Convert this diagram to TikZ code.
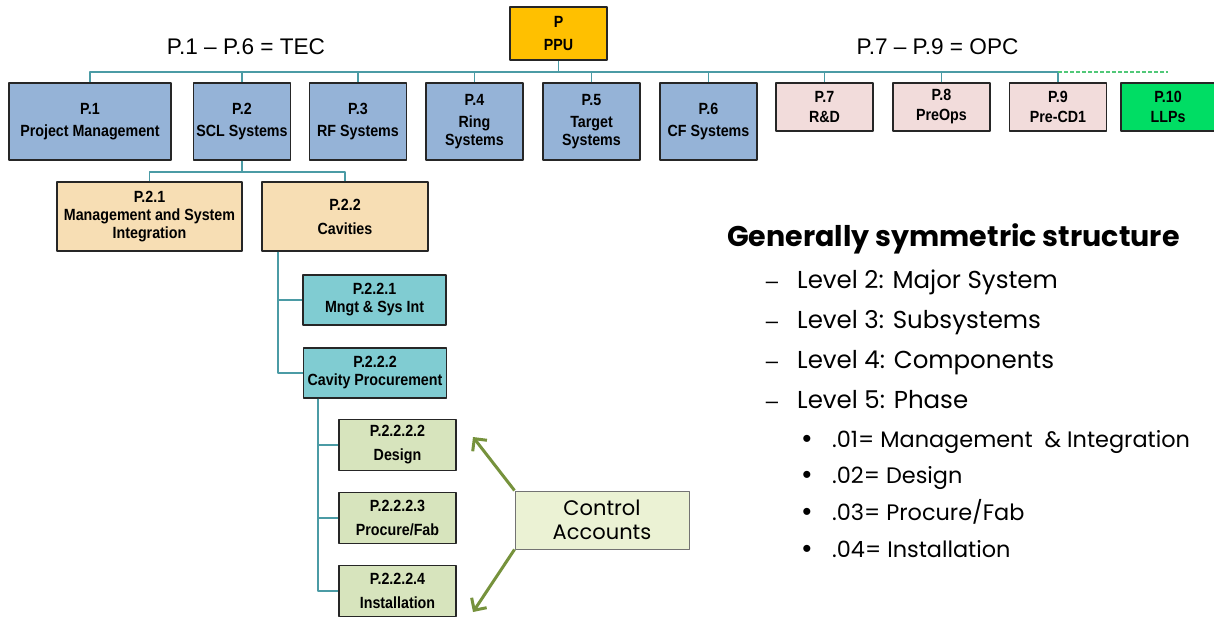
\documentclass[tikz,border=0pt]{standalone}
\usepackage{fontspec}
\setmainfont{Liberation Sans}
\newfontfamily\gothic{Poppins}
\newfontfamily\boxfont[FakeStretch=0.88]{Liberation Sans}
\usetikzlibrary{arrows.meta}

\definecolor{tecblue}{RGB}{149,179,215}
\definecolor{opcpink}{RGB}{242,220,219}
\definecolor{llpgreen}{RGB}{0,221,100}
\definecolor{ppuorange}{RGB}{255,192,0}
\definecolor{subtan}{RGB}{247,222,180}
\definecolor{compteal}{RGB}{128,204,210}
\definecolor{phasegreen}{RGB}{215,228,189}
\definecolor{ctrlgreen}{RGB}{235,242,212}
\definecolor{connteal}{RGB}{75,155,165}
\definecolor{dashgreen}{RGB}{80,200,120}
\definecolor{arrowgreen}{RGB}{118,146,60}

\tikzset{
  wbs/.style={draw=black!85, line width=1.3pt, align=center, inner sep=0pt,
    font=\boxfont\fontsize{16.2}{18}\selectfont\bfseries},
  topbox/.style={wbs, fill=ppuorange, minimum width=97pt, minimum height=53pt},
  tecbox/.style={wbs, fill=tecblue, minimum width=97pt, minimum height=77pt},
  opcbox/.style={wbs, fill=opcpink, minimum width=97pt, minimum height=48pt},
  llpbox/.style={wbs, fill=llpgreen, minimum width=94pt, minimum height=48pt},
  subbox/.style={wbs, fill=subtan, minimum height=69pt},
  compbox/.style={wbs, fill=compteal, minimum width=143pt, minimum height=50pt},
  phasebox/.style={wbs, fill=phasegreen, minimum width=117pt, minimum height=51pt},
  ctrlbox/.style={draw=black!55, line width=1pt, fill=ctrlgreen, align=center,
    minimum width=174pt, minimum height=58pt, inner sep=0pt,
    font=\gothic\fontsize{21}{24}\selectfont},
  conn/.style={draw=connteal, line width=1.8pt},
  busdash/.style={draw=dashgreen, line width=1.4pt, dash pattern=on 4pt off 2pt},
  ctrlarrow/.style={draw=arrowgreen, line width=3pt,
    -{Straight Barb[length=9pt, width=18pt, line width=3pt]}},
  captxt/.style={font=\fontsize{22.6}{26}\selectfont, inner sep=0pt},
  headtxt/.style={font=\gothic\bfseries\fontsize{28.5}{34}\selectfont, inner sep=0pt},
  lvltxt/.style={font=\gothic\fontsize{24.5}{28}\selectfont, inner sep=0pt},
  phtxt/.style={font=\gothic\fontsize{22.4}{26}\selectfont, inner sep=0pt}
}

\begin{document}
\begin{tikzpicture}[x=1pt, y=-1pt, line join=round]
\useasboundingbox[fill=white] (0,0) rectangle (1214,617);

% top level
\node[topbox] (p) at (558.5,33.5) {P\\[5pt]PPU};
\node[captxt, anchor=base] (tec) at (246,55) {P.1 – P.6 = TEC};
\node[captxt, anchor=base] (opc) at (937.5,55) {P.7 – P.9 = OPC};

% level 2
\node[tecbox, minimum width=162pt] (p1) at (90,121.5) {P.1\\[4pt]Project Management};
\node[tecbox] (p2) at (242,121.5) {P.2\\[4pt]SCL Systems};
\node[tecbox] (p3) at (358,121.5) {P.3\\[4pt]RF Systems};
\node[tecbox] (p4) at (474.5,121.5) {P.4\\[4pt]Ring\\Systems};
\node[tecbox] (p5) at (591.5,121.5) {P.5\\[4pt]Target\\Systems};
\node[tecbox] (p6) at (708.5,121.5) {P.6\\[4pt]CF Systems};
\node[opcbox] (p7) at (824.5,107) {P.7\\[2pt]R\&D};
\node[opcbox] (p8) at (941.5,107) {P.8\\[2pt]PreOps};
\node[opcbox] (p9) at (1058,107) {P.9\\[2pt]Pre-CD1};
\node[llpbox] (p10) at (1168,107) {P.10\\[2pt]LLPs};

\draw[conn] (p.south) -- ++(0,11.5) coordinate (bus);
\foreach \n in {p1,p2,p3,p4,p5,p6,p7,p8,p9}
  \draw[conn] (\n.north) |- (bus);
\draw[busdash] (p9.north |- bus) -- (p10.north |- bus);

% level 3
\node[subbox, minimum width=185pt] (p21) at (149.5,216.5) {P.2.1\\[0pt]Management and System\\Integration};
\node[subbox, minimum width=166pt] (p22) at (345,216.5) {P.2.2\\[6pt]Cavities};
\draw[conn] (p2.south) -- ++(0,11) coordinate (b2);
\draw[conn] (p21.north) |- (b2);
\draw[conn] (p22.north) |- (b2);

% level 4
\node[compbox] (p221) at (374.5,300) {P.2.2.1\\Mngt \& Sys Int};
\node[compbox] (p222) at (375,373) {P.2.2.2\\Cavity Procurement};
\draw[conn] ([xshift=17pt]p22.south west) |- (p221.west);
\draw[conn] ([xshift=17pt]p22.south west) |- (p222.west);

% level 5
\node[phasebox] (p2222) at (397.5,445) {P.2.2.2.2\\[6pt]Design};
\node[phasebox] (p2223) at (397.5,518) {P.2.2.2.3\\[6pt]Procure/Fab};
\node[phasebox] (p2224) at (397.5,591) {P.2.2.2.4\\[6pt]Installation};
\foreach \n in {p2222,p2223,p2224}
  \draw[conn] ([xshift=15pt]p222.south west) |- (\n.west);

% control accounts
\node[ctrlbox] (ctrl) at (602,520) {Control\\Accounts};
\coordinate (ca1) at (473,437);
\coordinate (ca2) at (473,612);
\draw[ctrlarrow] (ctrl.north west) -- (ca1);
\draw[ctrlarrow] (ctrl.south west) -- (ca2);

% legend
\node[headtxt, anchor=base west] (gen) at (727,247) {Generally symmetric structure};
\foreach \lv/\what/\yy in {2/Major System/288, 3/Subsystems/328, 4/Components/368, 5/Phase/408} {
  \node[lvltxt, font=\fontsize{22}{26}\selectfont, anchor=base] (dash\lv) at (772,\yy) {–};
  \node[lvltxt, anchor=base west] (lvl\lv) at (797,\yy) {Level \lv: \what};
}
\foreach \ph/\yy in {1/447, 2/483, 3/520, 4/557}
  \node[phtxt, font=\fontsize{26}{28}\selectfont, anchor=base] (bul\ph) at (807,\yy) {•};
\node[phtxt, anchor=base west] (ph1) at (832,447) {.01= Management \ \& Integration};
\node[phtxt, anchor=base west] (ph2) at (832,483) {.02= Design};
\node[phtxt, anchor=base west] (ph3) at (832,520) {.03= Procure/Fab};
\node[phtxt, anchor=base west] (ph4) at (832,557) {.04= Installation};
\end{tikzpicture}
\end{document}
